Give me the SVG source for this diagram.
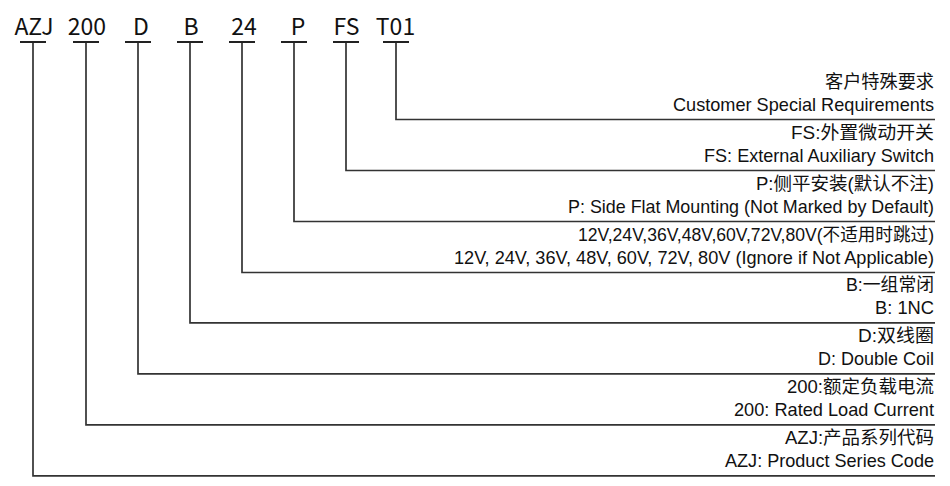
<svg xmlns="http://www.w3.org/2000/svg" width="950" height="486" viewBox="0 0 950 486">
<style>
.code{font-family:"Noto Sans CJK SC","Noto Sans",sans-serif;font-size:23px;fill:#111;text-anchor:middle}
.cn{font-family:"Liberation Sans","Noto Sans CJK SC",sans-serif;font-size:18px;fill:#111;text-anchor:end}
.en{font-family:"Liberation Sans",Arial,sans-serif;font-size:18.6px;fill:#111;text-anchor:end}
.ul{stroke:#222;stroke-width:2;fill:none}
.conn{stroke:#333;stroke-width:1.7;fill:none}
</style>
<rect width="950" height="486" fill="#fff"/>
<g id="connectors">
<polyline class="conn" points="396,42 396,119.5 935,119.5"/>
<polyline class="conn" points="346,42 346,170.5 935,170.5"/>
<polyline class="conn" points="294,42 294,221.5 935,221.5"/>
<polyline class="conn" points="242,42 242,272.5 935,272.5"/>
<polyline class="conn" points="190,42 190,322.8 935,322.8"/>
<polyline class="conn" points="138,42 138,373.8 935,373.8"/>
<polyline class="conn" points="86,42 86,424.8 935,424.8"/>
<polyline class="conn" points="33,42 33,475.8 935,475.8"/>
</g>
<g id="code-azj">
<text class="code" x="34" y="35">AZJ</text>
<line class="ul" x1="20" y1="42" x2="46" y2="42"/>
</g>
<g id="code-200">
<text class="code" x="87" y="35">200</text>
<line class="ul" x1="73" y1="42" x2="99" y2="42"/>
</g>
<g id="code-d">
<text class="code" x="141" y="35">D</text>
<line class="ul" x1="125" y1="42" x2="151" y2="42"/>
</g>
<g id="code-b">
<text class="code" x="191" y="35">B</text>
<line class="ul" x1="177" y1="42" x2="203" y2="42"/>
</g>
<g id="code-24">
<text class="code" x="244" y="35">24</text>
<line class="ul" x1="229" y1="42" x2="255" y2="42"/>
</g>
<g id="code-p">
<text class="code" x="298" y="35">P</text>
<line class="ul" x1="281" y1="42" x2="307" y2="42"/>
</g>
<g id="code-fs">
<text class="code" x="346.5" y="35">FS</text>
<line class="ul" x1="333" y1="42" x2="359" y2="42"/>
</g>
<g id="code-t01">
<text class="code" x="395.5" y="35">T01</text>
<line class="ul" x1="383" y1="42" x2="409" y2="42"/>
</g>
<g id="label-t01">
<text class="cn" x="934" y="88" textLength="109" lengthAdjust="spacingAndGlyphs">客户特殊要求</text>
<text class="en" x="934" y="110.5" textLength="261" lengthAdjust="spacingAndGlyphs">Customer Special Requirements</text>
</g>
<g id="label-fs">
<text class="cn" x="934" y="139" textLength="143" lengthAdjust="spacingAndGlyphs">FS:外置微动开关</text>
<text class="en" x="934" y="161.5" textLength="230" lengthAdjust="spacingAndGlyphs">FS: External Auxiliary Switch</text>
</g>
<g id="label-p">
<text class="cn" x="934" y="190" textLength="178" lengthAdjust="spacingAndGlyphs">P:侧平安装(默认不注)</text>
<text class="en" x="934" y="212.5" textLength="366" lengthAdjust="spacingAndGlyphs">P: Side Flat Mounting (Not Marked by Default)</text>
</g>
<g id="label-24">
<text class="cn" x="934" y="241" textLength="356" lengthAdjust="spacingAndGlyphs">12V,24V,36V,48V,60V,72V,80V(不适用时跳过)</text>
<text class="en" x="934" y="263.5" textLength="480" lengthAdjust="spacingAndGlyphs">12V, 24V, 36V, 48V, 60V, 72V, 80V (Ignore if Not Applicable)</text>
</g>
<g id="label-b">
<text class="cn" x="934" y="291.3" textLength="88" lengthAdjust="spacingAndGlyphs">B:一组常闭</text>
<text class="en" x="934" y="313.7" textLength="59" lengthAdjust="spacingAndGlyphs">B: 1NC</text>
</g>
<g id="label-d">
<text class="cn" x="934" y="342.3" textLength="76" lengthAdjust="spacingAndGlyphs">D:双线圈</text>
<text class="en" x="934" y="364.7" textLength="116" lengthAdjust="spacingAndGlyphs">D: Double Coil</text>
</g>
<g id="label-200">
<text class="cn" x="934" y="393.3" textLength="147" lengthAdjust="spacingAndGlyphs">200:额定负载电流</text>
<text class="en" x="934" y="415.7" textLength="200" lengthAdjust="spacingAndGlyphs">200: Rated Load Current</text>
</g>
<g id="label-azj">
<text class="cn" x="934" y="444.3" textLength="149" lengthAdjust="spacingAndGlyphs">AZJ:产品系列代码</text>
<text class="en" x="934" y="466.7" textLength="209" lengthAdjust="spacingAndGlyphs">AZJ: Product Series Code</text>
</g>
</svg>
